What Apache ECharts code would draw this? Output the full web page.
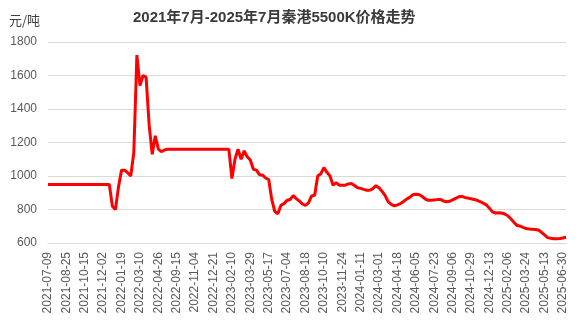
<!DOCTYPE html>
<html>
<head>
<meta charset="utf-8">
<script src="https://cdn.jsdelivr.net/npm/echarts@6/dist/echarts.min.js"></script>
<style>
html,body{margin:0;padding:0;background:#fff;}
#chart{width:584px;height:327px;}
</style>
</head>
<body>
<div id="chart"></div>
<script>
// Tick label dates shown on the x axis (every 6th category)
const tickDates = [
  '2021-07-09','2021-08-25','2021-10-15','2021-12-02','2022-01-19','2022-03-10',
  '2022-04-26','2022-09-15','2022-11-04','2022-12-21','2023-02-10','2023-03-29',
  '2023-05-17','2023-07-04','2023-08-18','2023-10-10','2023-11-24','2024-01-11',
  '2024-03-01','2024-04-18','2024-06-05','2024-07-23','2024-09-06','2024-10-29',
  '2024-12-13','2025-02-06','2025-03-24','2025-05-13','2025-06-30'
];
const lastDate = '2025-07-04';

// Qinhuangdao 5500K price (元/吨), one value per category
const prices = [
  950,950,950,950,950,950,950,950,950,950,
  950,950,950,950,950,950,950,950,950,950,
  950,820,800,935,1035,1035,1020,1000,1140,1722,
  1540,1600,1590,1305,1130,1240,1160,1145,1155,1160,
  1160,1160,1160,1160,1160,1160,1160,1160,1160,1160,
  1160,1160,1160,1160,1160,1160,1160,1160,1160,1160,
  985,1100,1160,1100,1150,1115,1095,1040,1035,1008,
  1005,988,979,860,788,775,825,835,855,860,
  883,865,851,833,824,840,881,885,1000,1013,
  1050,1022,1000,945,960,945,945,945,953,955,
  943,930,926,920,915,915,925,942,930,908,
  883,846,830,822,828,835,848,862,872,888,
  891,890,879,864,855,855,857,859,860,851,
  846,849,857,866,876,878,872,868,864,860,
  855,847,838,828,808,786,779,781,779,773,
  763,745,724,705,701,693,686,683,682,681,
  678,664,648,632,628,626,626,627,630,636
];

const yTicks = { min: 600, max: 1800, interval: 200 };

// build category dates: tick dates plus 5 intermediate dates between each pair
function fmt(d){
  const m = String(d.getUTCMonth()+1).padStart(2,'0');
  const dd = String(d.getUTCDate()).padStart(2,'0');
  return d.getUTCFullYear()+'-'+m+'-'+dd;
}
const categories = [];
for (let j = 0; j < tickDates.length - 1; j++) {
  const a = Date.parse(tickDates[j]+'T00:00:00Z');
  const b = Date.parse(tickDates[j+1]+'T00:00:00Z');
  categories.push(tickDates[j]);
  for (let k = 1; k < 6; k++) {
    const t = a + Math.round((b - a) * k / 6 / 86400000) * 86400000;
    categories.push(fmt(new Date(t)));
  }
}
categories.push(tickDates[tickDates.length-1]);
categories.push(lastDate);

const chart = echarts.init(document.getElementById('chart'), null, {renderer:'canvas'});
chart.setOption({
  animation: false,
  backgroundColor: '#ffffff',
  title: [
    {
      text: '2021年7月-2025年7月秦港5500K价格走势',
      left: 128, top: 5,
      textStyle: { fontSize: 15, fontWeight: 'bold', color: '#3a3a3a',
        fontFamily: '"Liberation Sans","Noto Sans CJK SC",sans-serif' }
    },
    {
      text: '元/吨',
      left: 4, top: 9,
      textStyle: { fontSize: 13, fontWeight: 'normal', color: '#404040',
        fontFamily: '"Noto Sans CJK SC",sans-serif' }
    }
  ],
  grid: { left: 48, right: 18, top: 42, bottom: 84, containLabel: false },
  xAxis: {
    type: 'category',
    data: categories,
    boundaryGap: false,
    axisLine: { show: true, lineStyle: { color: '#d9d9d9', width: 1 } },
    axisTick: { show: false },
    axisLabel: {
      interval: 5, rotate: 90, margin: 9,
      color: '#595959', fontSize: 12,
      fontFamily: '"Liberation Sans",Arial,sans-serif'
    },
    splitLine: { show: false }
  },
  yAxis: {
    type: 'value',
    min: yTicks.min, max: yTicks.max, interval: yTicks.interval,
    axisLine: { show: false },
    axisTick: { show: false },
    axisLabel: { color: '#595959', fontSize: 12, margin: 11,
      formatter: function (v) { return String(v); },
      fontFamily: '"Liberation Sans",Arial,sans-serif' },
    splitLine: { show: true, lineStyle: { color: '#d9d9d9', width: 1 } }
  },
  series: [{
    type: 'line',
    data: prices,
    showSymbol: false,
    symbol: 'none',
    smooth: false,
    lineStyle: { color: '#ff0000', width: 3 },
    itemStyle: { color: '#ff0000' }
  }]
});
</script>
</body>
</html>
